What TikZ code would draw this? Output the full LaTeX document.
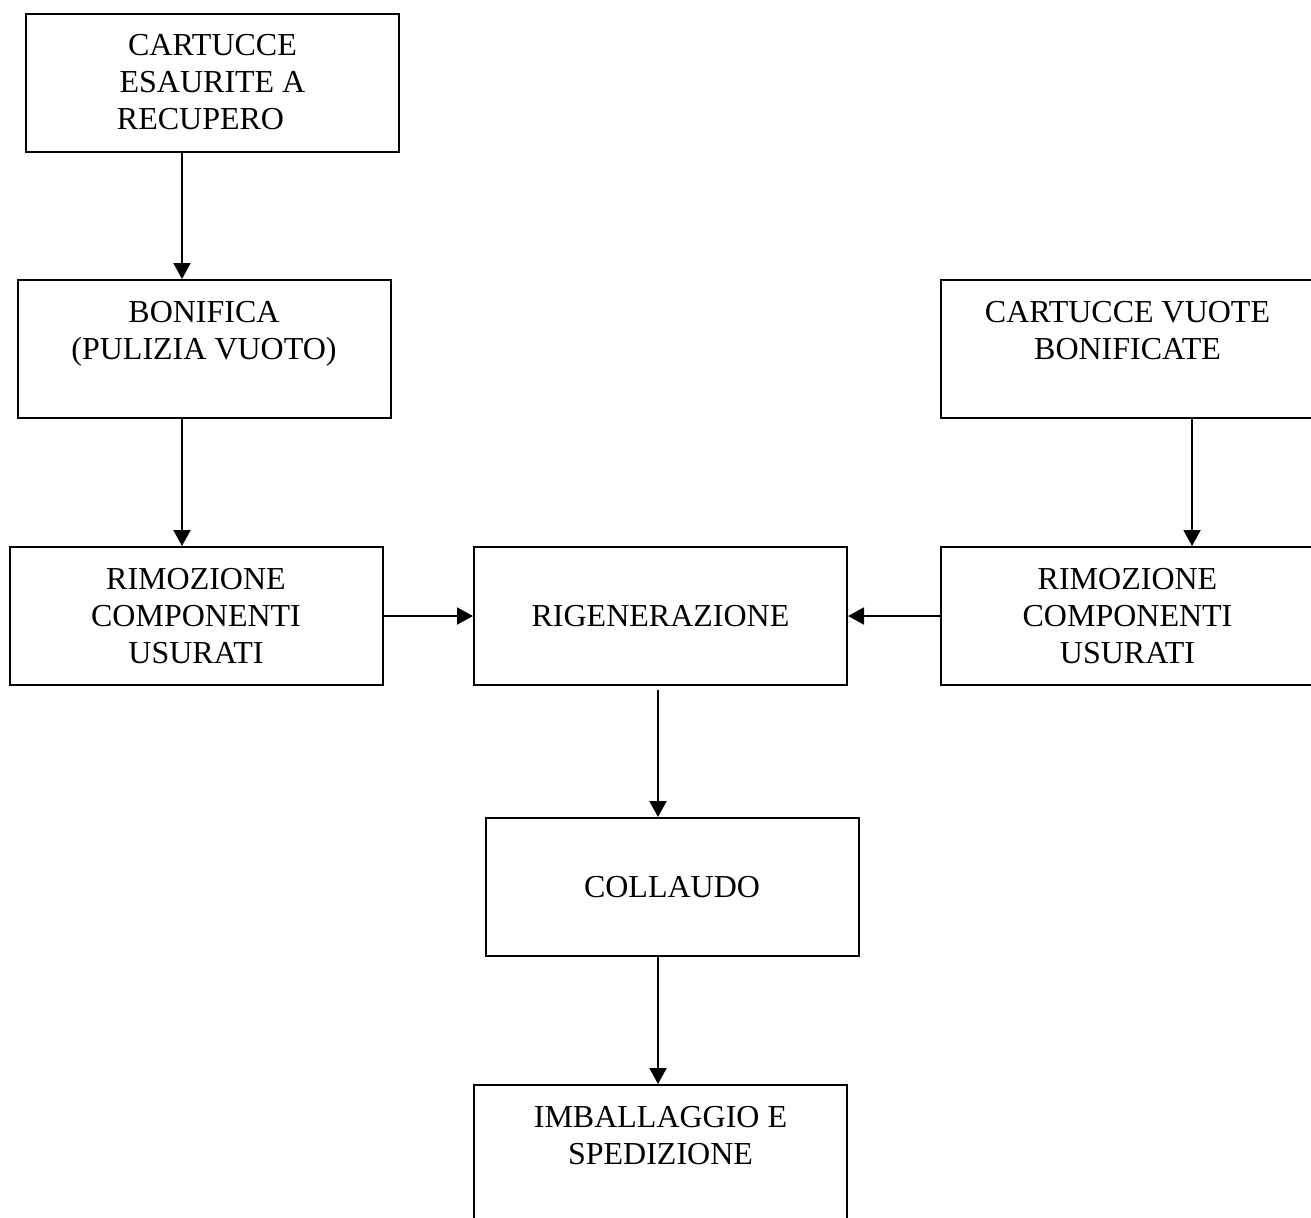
\documentclass[tikz,border=0pt]{standalone}
\usepackage{fontspec}
\setmainfont{Liberation Serif}
\usepackage{tikz}
\usetikzlibrary{positioning, arrows.meta, calc}

\begin{document}
\begin{tikzpicture}[
  x=0.5pt, y=-0.5pt,
  box/.style={
    draw,
    line width=1pt,
    minimum width=186.5pt,
    minimum height=69pt,
    inner sep=0pt,
    align=center,
    font=\fontsize{16}{18.5}\selectfont
  },
  flow/.style={line width=1pt, -{Triangle[length=8pt,width=8.5pt]}}
]
  \clip (0,0) rectangle (1311,1217);

  % boxes
  \node[box] (cartesaurite) at (212.5,82.5) {CARTUCCE\\ESAURITE A\\RECUPERO\hspace*{12pt}};
  \node[box] (bonifica) at (204,349) {BONIFICA\\(PULIZIA VUOTO)\\\mbox{}};
  \node[box] (cartvuote) at (1127.5,349) {CARTUCCE VUOTE\\BONIFICATE\\\mbox{}};
  \node[box] (rimsx) at (196,616) {RIMOZIONE\\COMPONENTI\\USURATI};
  \node[box] (rigen) at (660.5,616) {RIGENERAZIONE};
  \node[box] (rimdx) at (1127.5,616) {RIMOZIONE\\COMPONENTI\\USURATI};
  \node[box] (collaudo) at (672,887) {COLLAUDO};
  \node[box] (imballo) at (660.5,1154) {IMBALLAGGIO E\\SPEDIZIONE\\\mbox{}};

  % arrows
  \coordinate (lx) at (182,0);
  \coordinate (rx) at (1192,0);
  \coordinate (mx) at (658,0);
  \draw[flow] ([yshift=1pt]cartesaurite.south -| lx) -- (bonifica.north -| lx);
  \draw[flow] (bonifica.south -| lx) -- (rimsx.north -| lx);
  \draw[flow] (cartvuote.south -| rx) -- (rimdx.north -| rx);
  \draw[flow] (rimsx) -- (rigen);
  \draw[flow] (rimdx) -- (rigen);
  \draw[flow] ([yshift=-2pt]rigen.south -| mx) -- (collaudo.north -| mx);
  \draw[flow] (collaudo.south -| mx) -- (imballo.north -| mx);
\end{tikzpicture}
\end{document}
